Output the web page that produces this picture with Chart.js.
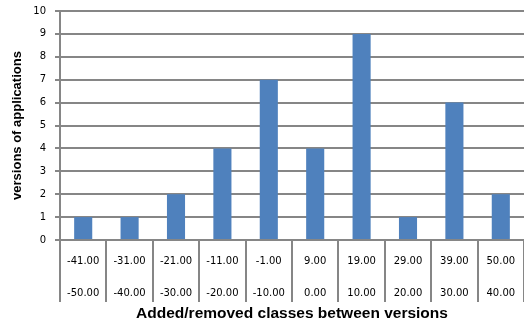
<!DOCTYPE html>
<html><head><meta charset="utf-8">
<script src="https://cdn.jsdelivr.net/npm/chart.js@4/dist/chart.umd.min.js"></script>
<style>html,body{margin:0;padding:0;background:#fff}#wrap{width:524px;height:329px}</style>
</head><body><div id="wrap"><canvas id="c"></canvas></div>
<script>
const upperBounds = ['-41.00','-31.00','-21.00','-11.00','-1.00','9.00','19.00','29.00','39.00','50.00'];
const lowerBounds = ['-50.00','-40.00','-30.00','-20.00','-10.00','0.00','10.00','20.00','30.00','40.00'];
const counts = [1,1,2,4,7,4,9,1,6,2];
const labels = upperBounds.map((u,i)=>[u, lowerBounds[i]]);

new Chart(document.getElementById('c'), {
  type: 'bar',
  data: { labels, datasets: [{ data: counts, backgroundColor: '#4F81BD', barPercentage: 0.39, categoryPercentage: 1 }] },
  options: {
    responsive: true, maintainAspectRatio: false, animation: false,
    layout: { padding: { top: 11, right: 0, left: 0, bottom: 4 } },
    plugins: { legend: { display: false }, tooltip: { enabled: false } },
    scales: {
      x: {
        offset: true,
        afterFit: (s) => { s.height = 85; },
        grid: { offset: true, drawOnChartArea: false, drawTicks: true, tickLength: 62, color: '#868686', lineWidth: 2 },
        border: { color: '#868686', width: 2 },
        ticks: { color: '#000', font: { family: 'DejaVu Sans', size: 10, lineHeight: 3.2 }, padding: -57, maxRotation: 0, autoSkip: false },
        title: { display: true, text: 'Added/removed classes between versions', color: '#000', font: { family: 'Liberation Sans', size: 15.5, weight: 'bold' }, padding: { top: 0, bottom: 2 } }
      },
      y: {
        min: 0, max: 10,
        afterFit: (s) => { s.width = 60; s.paddingTop = 6; s.paddingBottom = 6; },
        grid: { color: '#868686', lineWidth: 2, tickLength: 5 },
        border: { color: '#868686', width: 2 },
        ticks: { stepSize: 1, color: '#000', font: { family: 'DejaVu Sans', size: 10 }, padding: 9 },
        title: { display: true, text: 'versions of applications', color: '#000', font: { family: 'Liberation Sans', size: 13, weight: 'bold' }, padding: { top: 10, bottom: 0 } }
      }
    }
  }
});
</script></body></html>
